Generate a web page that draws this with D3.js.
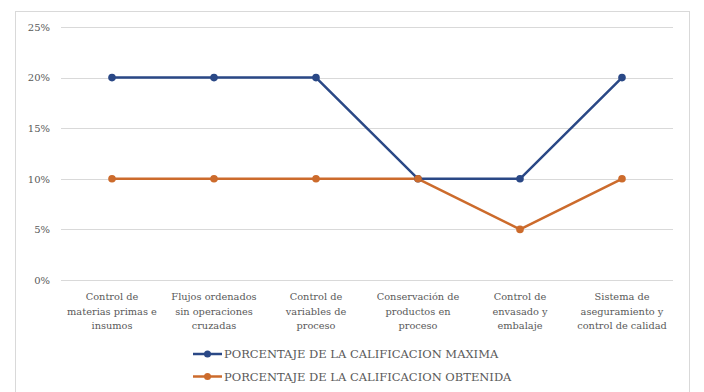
<!DOCTYPE html>
<html>
<head>
<meta charset="utf-8">
<script src="https://cdn.jsdelivr.net/npm/d3@7"></script>
<style>
  html, body { margin: 0; padding: 0; background: #fff; }
  svg { display: block; }
</style>
</head>
<body>
<svg id="chart" width="704" height="392"></svg>
<script>
// Evaluation categories (multi-line labels)
const categories = [
  ["Control de", "materias primas e", "insumos"],
  ["Flujos ordenados", "sin operaciones", "cruzadas"],
  ["Control de", "variables de", "proceso"],
  ["Conservación de", "productos en", "proceso"],
  ["Control de", "envasado y", "embalaje"],
  ["Sistema de", "aseguramiento y", "control de calidad"]
];
const maxScore = [0.20, 0.20, 0.20, 0.10, 0.10, 0.20];
const obtainedScore = [0.10, 0.10, 0.10, 0.10, 0.05, 0.10];
const yTicks = [0, 0.05, 0.10, 0.15, 0.20, 0.25];
const seriesNames = ["PORCENTAJE DE LA CALIFICACION MAXIMA", "PORCENTAJE DE LA CALIFICACION OBTENIDA"];
const seriesColors = ["#2a4886", "#cc6b2c"];

const FONT = "'DejaVu Serif', serif";

const svg = d3.select("#chart")
  .attr("font-family", FONT);

// chart frame
svg.append("rect")
  .attr("x", 15.5).attr("y", 11.5)
  .attr("width", 674).attr("height", 400)
  .attr("fill", "none").attr("stroke", "#d9d9d9").attr("stroke-width", 1);

const plot = { left: 61, right: 673, top: 27, bottom: 280 };

const x = d3.scalePoint()
  .domain(d3.range(categories.length))
  .range([plot.left, plot.right])
  .padding(0.5);

const y = d3.scaleLinear()
  .domain([0, 0.25])
  .range([plot.bottom, plot.top]);

// gridlines
svg.append("g")
  .selectAll("line")
  .data(yTicks)
  .join("line")
  .attr("x1", plot.left).attr("x2", plot.right)
  .attr("y1", d => Math.round(y(d)) + 0.5)
  .attr("y2", d => Math.round(y(d)) + 0.5)
  .attr("stroke", "#d9d9d9").attr("stroke-width", 1.2);

// y axis labels
const yAxis = d3.axisLeft(y)
  .tickValues(yTicks)
  .tickFormat(d3.format(".0%"))
  .tickSize(0)
  .tickPadding(11);
const yg = svg.append("g")
  .attr("transform", `translate(${plot.left},0)`)
  .call(yAxis)
  .attr("font-family", FONT)
  .attr("font-size", 10);
yg.select(".domain").remove();
yg.selectAll("text").attr("fill", "#595959");

// x axis labels
const xg = svg.append("g").attr("font-family", FONT).attr("font-size", 9.8).attr("fill", "#595959");
categories.forEach((lines, i) => {
  const t = xg.append("text")
    .attr("x", x(i))
    .attr("y", 300)
    .attr("text-anchor", "middle");
  lines.forEach((ln, j) => {
    t.append("tspan")
      .attr("x", x(i))
      .attr("dy", j === 0 ? 0 : 14.5)
      .text(ln);
  });
});

// series lines and markers
const line = d3.line()
  .x((d, i) => x(i))
  .y(d => y(d));

[maxScore, obtainedScore].forEach((vals, s) => {
  svg.append("path")
    .datum(vals)
    .attr("d", line)
    .attr("fill", "none")
    .attr("stroke", seriesColors[s])
    .attr("stroke-width", 2.5)
    .attr("stroke-linejoin", "round");
});
[maxScore, obtainedScore].forEach((vals, s) => {
  svg.append("g")
    .selectAll("circle")
    .data(vals)
    .join("circle")
    .attr("cx", (d, i) => x(i))
    .attr("cy", d => y(d))
    .attr("r", 3.8)
    .attr("fill", seriesColors[s]);
});

// legend
const legend = svg.append("g").attr("font-family", FONT).attr("font-size", 11.5).attr("fill", "#595959");
seriesNames.forEach((name, s) => {
  const ly = 354 + s * 22.5;
  legend.append("line")
    .attr("x1", 193).attr("x2", 222)
    .attr("y1", ly).attr("y2", ly)
    .attr("stroke", seriesColors[s]).attr("stroke-width", 2.5);
  legend.append("circle")
    .attr("cx", 207.5).attr("cy", ly).attr("r", 3.5)
    .attr("fill", seriesColors[s]);
  legend.append("text")
    .attr("x", 224).attr("y", ly + 4.2)
    .text(name);
});
</script>
</body>
</html>
